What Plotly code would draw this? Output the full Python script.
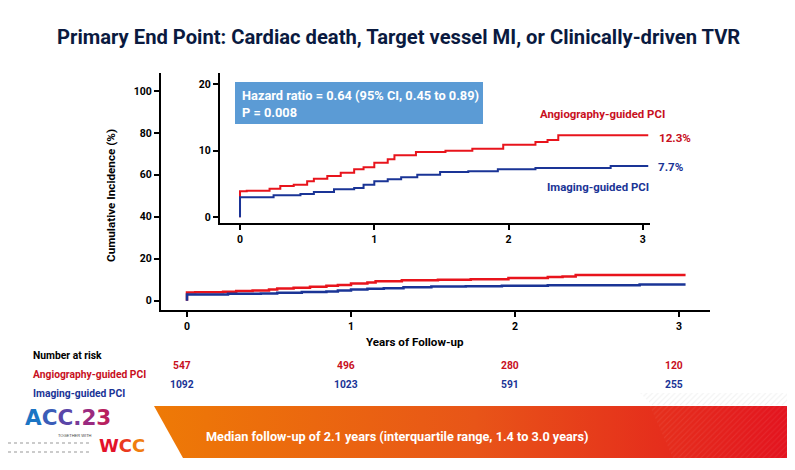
import plotly.graph_objects as go

# Page has an 8px body margin: figure is placed at (8, 8) in the 795x470 window.
OFF = 8
W, H = 795 - OFF, 470 - OFF

# ---------------- data ----------------
angio_t = [0, 0, 0.05, 0.22, 0.30, 0.40, 0.50, 0.55, 0.65, 0.75, 0.85, 0.92, 1.00, 1.10, 1.15,
           1.31, 1.53, 1.73, 1.96, 2.20, 2.29, 2.37, 3.04]
angio_v = [0, 3.9, 4.0, 4.3, 4.7, 4.9, 5.4, 5.8, 6.2, 6.7, 7.2, 7.5, 8.2, 8.7, 9.3,
           9.8, 10.0, 10.3, 10.9, 11.3, 11.6, 12.3, 12.3]
imaging_t = [0, 0, 0.25, 0.45, 0.55, 0.70, 0.85, 0.92, 1.00, 1.10, 1.20, 1.32, 1.49, 1.70,
             1.92, 2.20, 2.76, 3.04]
imaging_v = [0, 3.0, 3.3, 3.5, 3.8, 4.2, 4.4, 4.9, 5.4, 5.7, 6.0, 6.4, 6.8, 6.9,
             7.2, 7.4, 7.7, 7.7]

years = [0, 1, 2, 3]
main_yticks = [0, 20, 40, 60, 80, 100]
inset_yticks = [0, 10, 20]
risk_angio = [547, 496, 280, 120]
risk_imaging = [1092, 1023, 591, 255]
final_angio = "12.3%"
final_imaging = "7.7%"

RED = "#E8141C"
RED_TXT = "#C8101E"
BLUE = "#1A3496"
NAVY = "#0A1A3F"
FONT = "Roboto, Liberation Sans, sans-serif"


def px(x):
    return (x - OFF) / W


def py(y):
    return 1 - (y - OFF) / H


fig = go.Figure()

# main plot curves
fig.add_trace(go.Scatter(x=angio_t, y=angio_v, mode="lines", line=dict(color=RED, width=2.5, shape="hv"),
                         xaxis="x", yaxis="y", hoverinfo="skip"))
fig.add_trace(go.Scatter(x=imaging_t, y=imaging_v, mode="lines", line=dict(color=BLUE, width=2.5, shape="hv"),
                         xaxis="x", yaxis="y", hoverinfo="skip"))
# inset curves
fig.add_trace(go.Scatter(x=angio_t, y=angio_v, mode="lines", line=dict(color=RED, width=2, shape="hv"),
                         xaxis="x2", yaxis="y2", hoverinfo="skip"))
fig.add_trace(go.Scatter(x=imaging_t, y=imaging_v, mode="lines", line=dict(color=BLUE, width=2, shape="hv"),
                         xaxis="x2", yaxis="y2", hoverinfo="skip"))

# decorative banner on a hidden pixel-overlay axis pair (window pixel coordinates)
fig.add_trace(go.Scatter(x=[154, 795, 795, 183, 154], y=[406, 406, 458, 458, 406], mode="lines",
                         fill="toself", line=dict(width=0),
                         fillgradient=dict(type="horizontal",
                                           colorscale=[[0, "#EE7A06"], [0.5, "#E85518"], [1, "#E3121F"]]),
                         xaxis="x3", yaxis="y3", hoverinfo="skip"))
fig.add_trace(go.Scatter(x=[650, 795, 795, 673, 650], y=[406, 406, 458, 458, 406], mode="lines",
                         fill="toself", line=dict(width=0), fillcolor="rgba(0,0,0,0)",
                         fillpattern=dict(shape="/", fgcolor="rgba(255,255,255,0.15)",
                                          bgcolor="rgba(0,0,0,0)", size=4, solidity=0.25),
                         xaxis="x3", yaxis="y3", hoverinfo="skip"))
fig.add_trace(go.Scatter(x=[640, 795, 795, 652, 640], y=[393, 393, 405, 405, 393], mode="lines",
                         fill="toself", line=dict(width=0), fillcolor="rgba(0,0,0,0)",
                         fillpattern=dict(shape="/", fgcolor="rgba(200,200,200,0.55)",
                                          bgcolor="rgba(0,0,0,0)", size=4, solidity=0.25),
                         xaxis="x3", yaxis="y3", hoverinfo="skip"))

tickfont = dict(family=FONT, size=10.5, color="black", weight="bold")
axis_common = dict(ticks="outside", ticklen=5, tickwidth=1.5, tickcolor="black",
                   showline=True, linewidth=2, linecolor="black", showgrid=False, zeroline=False,
                   tickfont=tickfont)

fig.update_layout(
    width=W, height=H, margin=dict(l=0, r=0, t=0, b=0),
    paper_bgcolor="white", plot_bgcolor="rgba(0,0,0,0)", showlegend=False,
    xaxis=dict(domain=[px(161), px(710)], range=[-0.1585, 3.189], anchor="y", tickvals=years, **axis_common),
    yaxis=dict(domain=[py(310), py(73)], range=[-4.4, 108.5], anchor="x", tickvals=main_yticks, **axis_common),
    xaxis2=dict(domain=[px(220), px(650)], range=[-0.149, 3.053], anchor="y2", tickvals=years, **axis_common),
    yaxis2=dict(domain=[py(223), py(73)], range=[-0.86, 21.66], anchor="x2", tickvals=inset_yticks,
                **axis_common),
    xaxis3=dict(domain=[0, 1], range=[OFF, 795], visible=False, anchor="y3", fixedrange=True),
    yaxis3=dict(domain=[0, 1], range=[470, OFF], visible=False, anchor="x3", fixedrange=True),
)

shapes = []
# hazard ratio box
shapes.append(dict(type="rect", xref="paper", yref="paper", x0=px(235), x1=px(483), y0=py(124), y1=py(82),
                   fillcolor="#5B9BD5", line=dict(width=0), layer="below"))
# dotted lines under logo
for yy in (443, 452):
    shapes.append(dict(type="line", xref="paper", yref="paper", x0=px(8), x1=px(90), y0=py(yy), y1=py(yy),
                       line=dict(color="#BBBBBB", width=1.5, dash="dot")))
fig.update_layout(shapes=shapes)

ann = []


def add(text, x, y, size=12, color="black", xanchor="center", textangle=0, family=FONT, weight="bold"):
    ann.append(dict(text=text, x=px(x), y=py(y), xref="paper", yref="paper",
                    showarrow=False, xanchor=xanchor, yanchor="middle", textangle=textangle,
                    font=dict(family=family, size=size, color=color, weight=weight)))


add("Primary End Point: Cardiac death, Target vessel MI, or Clinically-driven TVR", 398, 37, size=20.2, color=NAVY)
add("Cumulative Incidence (%)", 111, 196, size=11.7, textangle=-90)
add("Years of Follow-up", 415, 342, size=11.6)

add("Hazard ratio = 0.64 (95% CI, 0.45 to 0.89)", 240, 95, size=12.8, color="white", xanchor="left")
add("P = 0.008", 240, 112, size=12.8, color="white", xanchor="left")

add("Angiography-guided PCI", 667, 114, size=11.4, color=RED_TXT, xanchor="right")
add(final_angio, 657, 138, size=11.6, color=RED_TXT, xanchor="left")
add(final_imaging, 656, 167, size=11.6, color=BLUE, xanchor="left")
add("Imaging-guided PCI", 651, 187, size=11.4, color=BLUE, xanchor="right")

add("Number at risk", 31, 355, size=10.3, xanchor="left")
add("Angiography-guided PCI", 31, 374, size=10.3, color=RED_TXT, xanchor="left")
add("Imaging-guided PCI", 31, 393, size=10.3, color=BLUE, xanchor="left")
for xv, a, b in zip(years, risk_angio, risk_imaging):
    ann.append(dict(text=str(a), x=xv, y=py(374), xref="x", yref="paper", showarrow=False, xshift=-5,
                    font=dict(family=FONT, size=10.3, color=RED_TXT, weight="bold")))
    ann.append(dict(text=str(b), x=xv, y=py(393), xref="x", yref="paper", showarrow=False, xshift=-5,
                    font=dict(family=FONT, size=10.3, color=BLUE, weight="bold")))

add("Median follow-up of 2.1 years (interquartile range, 1.4 to 3.0 years)", 204, 436, size=12.7,
    color="white", xanchor="left")

# logo
logo_acc = ("<span style='color:#1C75C4'>A</span><span style='color:#3A5DB8'>C</span>"
            "<span style='color:#5A46A8'>C</span><span style='color:#7A3A98'>.</span>"
            "<span style='color:#9A2A80'>2</span><span style='color:#B8205E'>3</span>")
add(logo_acc, 23, 417, size=21.5, xanchor="left", family="DejaVu Sans, sans-serif")
add("TOGETHER WITH", 94, 435, size=4, color="#444", xanchor="right", family="Liberation Sans, sans-serif",
    weight="normal")
logo_wcc = ("<span style='color:#E3122A'>W</span><span style='color:#EA3A20'>C</span>"
            "<span style='color:#F07D10'>C</span>")
add(logo_wcc, 97, 445, size=18, xanchor="left", family="DejaVu Sans, sans-serif")

fig.update_layout(annotations=ann)

fig.write_html("out.html")
